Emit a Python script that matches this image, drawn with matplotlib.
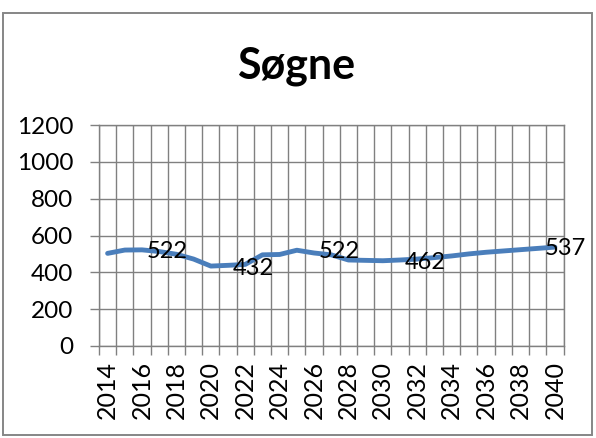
import matplotlib
matplotlib.use("Agg")
import matplotlib.pyplot as plt
from matplotlib.patches import Rectangle
import numpy as np

plt.rcParams['font.family'] = ['Lato', 'DejaVu Sans']

years = list(range(2014, 2041))
values = [503, 521, 522, 513, 498, 472, 434, 438, 443, 495, 497, 520, 505,
          495, 467, 465, 463, 467, 472, 480, 489, 500, 509, 516, 523, 530, 537]
label_years = [2016, 2021, 2026, 2031, 2040]
label_texts = ['522', '432', '522', '462', '537']
yticks = [0, 200, 400, 600, 800, 1000, 1200]
title = 'Søgne'

W, H = 596, 438
fig = plt.figure(figsize=(W / 100, H / 100), dpi=100)
fig.patch.set_facecolor('white')

# chart border
fig.patches.append(Rectangle((3 / W, 3 / H), 589 / W, 422 / H, transform=fig.transFigure,
                             fill=False, edgecolor='#868686', linewidth=1.4))

ax = fig.add_axes([99 / W, (H - 346) / H, (563.5 - 99) / W, (346 - 125) / H])
grid_c = '#808080'
x = np.arange(len(years))
ax.plot(x, values, color='#4A7EBB', linewidth=3.5, solid_capstyle='round',
        solid_joinstyle='round', zorder=3)

ax.set_xlim(-0.5, len(years) - 0.5)
ax.set_ylim(0, 1200)
ax.set_yticks(yticks)
ax.set_yticklabels([str(v) for v in yticks], fontsize=17.5)
ax.tick_params(axis='y', direction='out', length=6.5, width=1.0, color=grid_c, pad=12)

ax.set_xticks(x[::2])
ax.set_xticklabels([str(y) for y in years[::2]], rotation=90, fontsize=18)
ax.tick_params(axis='x', which='major', length=0, pad=11)
ax.set_xticks(np.arange(len(years) + 1) - 0.5, minor=True)
ax.tick_params(axis='x', which='minor', direction='out', length=6.5, width=1.0, color=grid_c)

ax.grid(True, axis='y', which='major', color=grid_c, linewidth=1.0, zorder=1)
ax.grid(True, axis='x', which='minor', color=grid_c, linewidth=1.0, zorder=1)
ax.set_axisbelow(True)
for s in ax.spines.values():
    s.set_color(grid_c)
    s.set_linewidth(1.0)

for ly, lt in zip(label_years, label_texts):
    xi = years.index(ly)
    if ly == years[-1]:
        off = -10
    else:
        off = 5
    ax.annotate(lt, (xi, float(lt)), xytext=(off * 0.72, -1.2), textcoords='offset points',
                ha='left', va='center', fontsize=17, color='black', zorder=4)

fig.text(0.497, (H - 78) / H, title, ha='center', va='baseline', fontsize=31,
         fontweight='bold', color='black')

fig.savefig('out.png', dpi=100, facecolor='white')
